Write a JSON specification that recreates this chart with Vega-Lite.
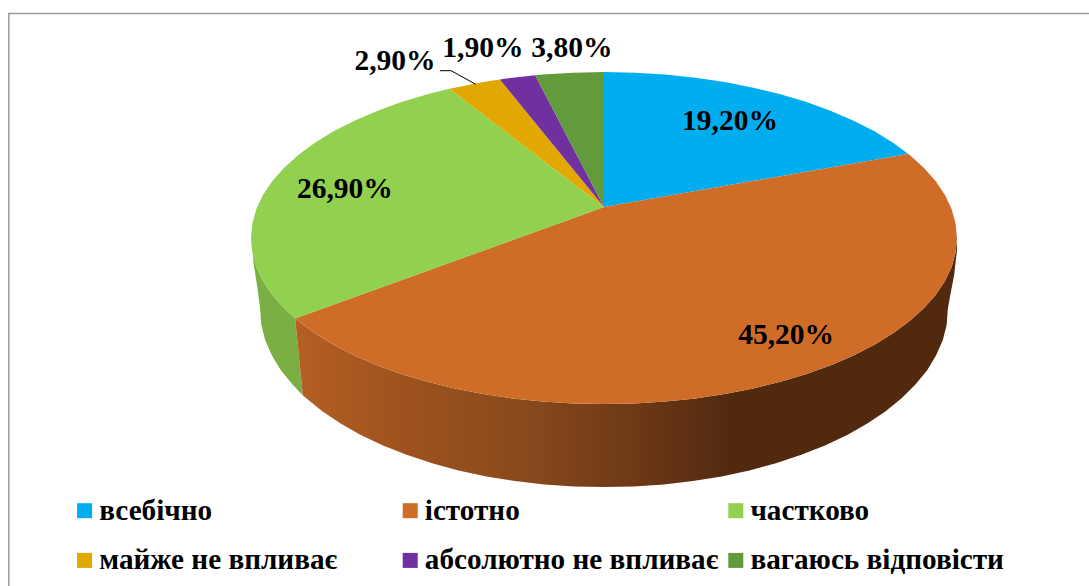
{"$schema":"https://vega.github.io/schema/vega-lite/v6.json","width":1089,"height":586,"padding":0,"autosize":"none","background":"white","config":{"view":{"stroke":null}},
"datasets":{
"top":[
{"s":"всебічно","x":0,"y":18.7},{"s":"всебічно","x":0,"y":100},{"s":"всебічно","x":8.7,"y":99.6},{"s":"всебічно","x":17.4,"y":98.5},{"s":"всебічно","x":25.9,"y":96.6},{"s":"всебічно","x":34.2,"y":94},{"s":"всебічно","x":42.3,"y":90.6},{"s":"всебічно","x":50,"y":86.6},{"s":"всебічно","x":57.4,"y":81.9},{"s":"всебічно","x":64.3,"y":76.6},{"s":"всебічно","x":70.7,"y":70.7},{"s":"всебічно","x":76.6,"y":64.3},{"s":"всебічно","x":81.9,"y":57.4},{"s":"всебічно","x":86.2,"y":50.7},
{"s":"істотно","x":0,"y":18.7},{"s":"істотно","x":86.2,"y":50.7},{"s":"істотно","x":86.6,"y":50},{"s":"істотно","x":90.6,"y":42.3},{"s":"істотно","x":94,"y":34.2},{"s":"істотно","x":96.6,"y":25.9},{"s":"істотно","x":98.5,"y":17.4},{"s":"істотно","x":99.6,"y":8.7},{"s":"істотно","x":100,"y":0},{"s":"істотно","x":99.6,"y":-8.7},{"s":"істотно","x":98.5,"y":-17.4},{"s":"істотно","x":96.6,"y":-25.9},{"s":"істотно","x":94,"y":-34.2},{"s":"істотно","x":90.6,"y":-42.3},{"s":"істотно","x":86.6,"y":-50},{"s":"істотно","x":81.9,"y":-57.4},{"s":"істотно","x":76.6,"y":-64.3},{"s":"істотно","x":70.7,"y":-70.7},{"s":"істотно","x":64.3,"y":-76.6},{"s":"істотно","x":57.4,"y":-81.9},{"s":"істотно","x":50,"y":-86.6},{"s":"істотно","x":42.3,"y":-90.6},{"s":"істотно","x":34.2,"y":-94},{"s":"істотно","x":25.9,"y":-96.6},{"s":"істотно","x":17.4,"y":-98.5},{"s":"істотно","x":8.7,"y":-99.6},{"s":"істотно","x":0,"y":-100},{"s":"істотно","x":-8.7,"y":-99.6},{"s":"істотно","x":-17.4,"y":-98.5},{"s":"істотно","x":-25.9,"y":-96.6},{"s":"істотно","x":-34.2,"y":-94},{"s":"істотно","x":-42.3,"y":-90.6},{"s":"істотно","x":-50,"y":-86.6},{"s":"істотно","x":-57.4,"y":-81.9},{"s":"істотно","x":-64.3,"y":-76.6},{"s":"істотно","x":-70.7,"y":-70.7},{"s":"істотно","x":-76.6,"y":-64.3},{"s":"істотно","x":-81.9,"y":-57.4},{"s":"істотно","x":-86.6,"y":-50},{"s":"істотно","x":-87.5,"y":-48.5},
{"s":" частково","x":0,"y":18.7},{"s":" частково","x":-87.5,"y":-48.5},{"s":" частково","x":-90.6,"y":-42.3},{"s":" частково","x":-94,"y":-34.2},{"s":" частково","x":-96.6,"y":-25.9},{"s":" частково","x":-98.5,"y":-17.4},{"s":" частково","x":-99.6,"y":-8.7},{"s":" частково","x":-100,"y":0},{"s":" частково","x":-99.6,"y":8.7},{"s":" частково","x":-98.5,"y":17.4},{"s":" частково","x":-96.6,"y":25.9},{"s":" частково","x":-94,"y":34.2},{"s":" частково","x":-90.6,"y":42.3},{"s":" частково","x":-86.6,"y":50},{"s":" частково","x":-81.9,"y":57.4},{"s":" частково","x":-76.6,"y":64.3},{"s":" частково","x":-70.7,"y":70.7},{"s":" частково","x":-64.3,"y":76.6},{"s":" частково","x":-57.4,"y":81.9},{"s":" частково","x":-50,"y":86.6},{"s":" частково","x":-43.8,"y":89.9},
{"s":"майже не впливає","x":0,"y":18.7},{"s":"майже не впливає","x":-43.8,"y":89.9},{"s":"майже не впливає","x":-42.3,"y":90.6},{"s":"майже не впливає","x":-34.2,"y":94},{"s":"майже не впливає","x":-29.5,"y":95.5},
{"s":"абсолютно не впливає","x":0,"y":18.7},{"s":"абсолютно не впливає","x":-29.5,"y":95.5},{"s":"абсолютно не впливає","x":-25.9,"y":96.6},{"s":"абсолютно не впливає","x":-19.5,"y":98.1},
{"s":"вагаюсь відповісти","x":0,"y":18.7},{"s":"вагаюсь відповісти","x":-19.5,"y":98.1},{"s":"вагаюсь відповісти","x":-17.4,"y":98.5},{"s":"вагаюсь відповісти","x":-8.7,"y":99.6},{"s":"вагаюсь відповісти","x":0,"y":100}
],
"rimOrange":[
{"x":100,"y":0},{"x":99.6,"y":-8.7},{"x":98.5,"y":-17.4},{"x":96.6,"y":-25.9},{"x":94,"y":-34.2},{"x":90.6,"y":-42.3},{"x":86.6,"y":-50},{"x":81.9,"y":-57.4},{"x":76.6,"y":-64.3},{"x":70.7,"y":-70.7},{"x":64.3,"y":-76.6},{"x":57.4,"y":-81.9},{"x":50,"y":-86.6},{"x":42.3,"y":-90.6},{"x":34.2,"y":-94},{"x":25.9,"y":-96.6},{"x":17.4,"y":-98.5},{"x":8.7,"y":-99.6},{"x":0,"y":-100},{"x":-8.7,"y":-99.6},{"x":-17.4,"y":-98.5},{"x":-25.9,"y":-96.6},{"x":-34.2,"y":-94},{"x":-42.3,"y":-90.6},{"x":-50,"y":-86.6},{"x":-57.4,"y":-81.9},{"x":-64.3,"y":-76.6},{"x":-70.7,"y":-70.7},{"x":-76.6,"y":-64.3},{"x":-81.9,"y":-57.4},{"x":-86.6,"y":-50},{"x":-87.5,"y":-48.5},
{"x":-85.3,"y":-94.8},{"x":-79.8,"y":-104.3},{"x":-74.6,"y":-111.7},{"x":-68.9,"y":-118.6},{"x":-62.6,"y":-124.9},{"x":-55.9,"y":-130.6},{"x":-48.7,"y":-135.6},{"x":-41.2,"y":-140},{"x":-33.3,"y":-143.6},{"x":-25.2,"y":-146.4},{"x":-16.9,"y":-148.4},{"x":-8.5,"y":-149.6},{"x":0,"y":-150},{"x":8.5,"y":-149.6},{"x":16.9,"y":-148.4},{"x":25.2,"y":-146.4},{"x":33.3,"y":-143.6},{"x":41.2,"y":-140},{"x":48.7,"y":-135.6},{"x":55.9,"y":-130.6},{"x":62.6,"y":-124.9},{"x":68.9,"y":-118.6},{"x":74.6,"y":-111.7},{"x":79.8,"y":-104.3},{"x":84.4,"y":-96.4},{"x":88.3,"y":-88.1},{"x":91.6,"y":-79.5},{"x":94.1,"y":-70.6},{"x":96,"y":-61.4},{"x":97.1,"y":-52.1},{"x":97.4,"y":-42.8},{"x":98,"y":-35.5},{"x":99.2,"y":-22.3},{"x":100,"y":-7.2}
],
"rimGreen":[
{"x":-87.5,"y":-48.5},{"x":-90.6,"y":-42.3},{"x":-94,"y":-34.2},{"x":-96.6,"y":-25.9},{"x":-98.5,"y":-17.4},{"x":-99.6,"y":-8.7},{"x":-100,"y":0},{"x":-99.7,"y":-5.4},{"x":-99.2,"y":-16.3},{"x":-98.3,"y":-28.3},{"x":-97.4,"y":-42.8},{"x":-97.1,"y":-52.1},{"x":-96,"y":-61.4},{"x":-94.1,"y":-70.6},{"x":-91.6,"y":-79.5},{"x":-88.3,"y":-88.1},{"x":-85.3,"y":-94.8}
],
"frame":[{"x":-168.6,"y":-209.6},{"x":-168.6,"y":135.2},{"x":137.4,"y":135.2}],
"leader":[{"x":-46.5,"y":100.8},{"x":-43.3,"y":100.8},{"x":-36.3,"y":92.6}],
"labels":[{"t":"19,20%","x":35.7,"y":70.5},{"t":"45,20%","x":51.6,"y":-58.4},{"t":"26,90%","x":-73.4,"y":29.5},{"t":"2,90%","x":-59.2,"y":106.6},{"t":"1,90%","x":-34.3,"y":114.5},{"t":"3,80%","x":-9.1,"y":114.5}]
},
"encoding":{
"x":{"field":"x","type":"quantitative","axis":null,"scale":{"domain":[-171.1,137.4],"nice":false,"zero":false}},
"y":{"field":"y","type":"quantitative","axis":null,"scale":{"domain":[-209.6,143.4],"nice":false,"zero":false}}
},
"layer":[
{"data":{"name":"frame"},"mark":{"type":"line","stroke":"#999999","strokeWidth":1.5},"encoding":{"order":{"value":null}}},
{"data":{"name":"rimGreen"},"mark":{"type":"line","filled":true,"fill":"#7CAF43","stroke":null},"encoding":{"order":{"value":null}}},
{"data":{"name":"rimOrange"},"mark":{"type":"line","filled":true,"stroke":null,"fill":{"gradient":"linear","x1":0,"x2":1,"y1":0,"y2":0,"stops":[{"offset":0,"color":"#B55F24"},{"offset":0.15,"color":"#A0531E"},{"offset":0.35,"color":"#88491C"},{"offset":0.52,"color":"#6C3816"},{"offset":0.66,"color":"#51290F"},{"offset":1,"color":"#51290F"}]}},"encoding":{"order":{"value":null}}},
{"data":{"name":"top"},"mark":{"type":"line","filled":true,"stroke":null},"encoding":{"order":{"value":null},"color":{"field":"s","type":"nominal","scale":{"domain":["всебічно","істотно"," частково","майже не впливає","абсолютно не впливає","вагаюсь відповісти"],"range":["#00AEEF","#CF6D28","#92D050","#E0A800","#7030A0","#629A3C"]},"legend":{"orient":"none","legendX":70,"legendY":496,"direction":"horizontal","columns":3,"title":null,"symbolType":"square","symbolSize":225,"symbolStrokeWidth":0,"labelFont":"Liberation Serif","labelFontWeight":"bold","labelFontSize":29.2,"labelColor":"#000000","labelLimit":600,"labelOffset":0,"rowPadding":19.8,"columnPadding":2.6,"gridAlign":"all","labelExpr":"indexof(datum.label, 'частково') >= 0 ? '\u00a0\u00a0частково' : datum.label"}}}},
{"data":{"name":"leader"},"mark":{"type":"line","stroke":"#000000","strokeWidth":1},"encoding":{"order":{"value":null}}},
{"data":{"name":"labels"},"mark":{"type":"text","font":"Liberation Serif","fontWeight":"bold","fontSize":29.5,"color":"#000000","align":"center","baseline":"middle"},"encoding":{"text":{"field":"t","type":"nominal"}}}
]}
